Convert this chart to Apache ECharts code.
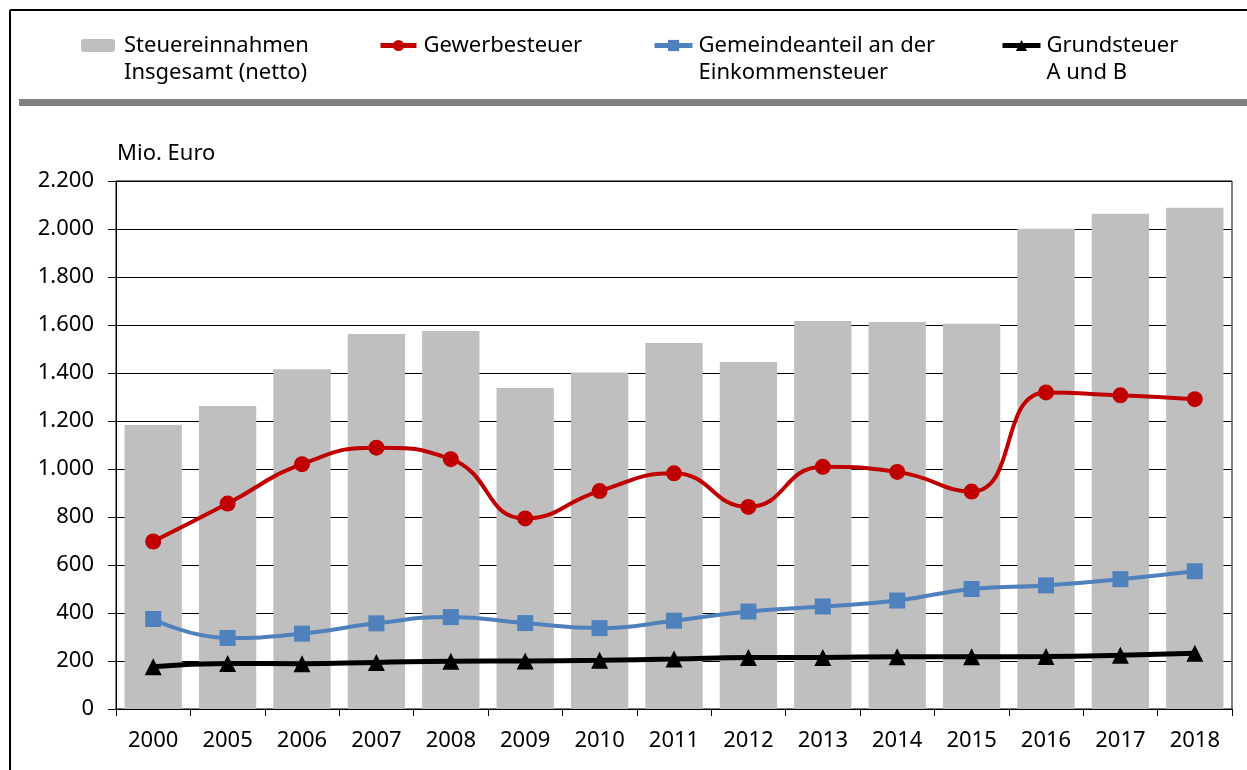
<!DOCTYPE html>
<html>
<head>
<meta charset="utf-8">
<script src="https://cdn.jsdelivr.net/npm/echarts@6/dist/echarts.min.js"></script>
<style>
html,body{margin:0;padding:0;background:#fff;}
#c{width:1247px;height:770px;}
</style>
</head>
<body>
<div id="c"></div>
<script>
var years = ['2000','2005','2006','2007','2008','2009','2010','2011','2012','2013','2014','2015','2016','2017','2018'];
var steuerGesamt = [1183,1262,1416,1562,1575,1337,1402,1525,1446,1617,1613,1605,2001,2064,2089];
var gewerbesteuer = [698,856,1020,1089,1041,794,908,982,842,1009,988,906,1319,1307,1291];
var einkommensteuer = [375,296,314,357,383,358,337,368,406,427,452,500,515,541,574];
var grundsteuer = [176,190,189,194,199,200,203,208,215,215,218,218,219,224,232];
var yTicks = [0,200,400,600,800,1000,1200,1400,1600,1800,2000,2200];

var names = ['Steuereinnahmen\nInsgesamt (netto)','Gewerbesteuer','Gemeindeanteil an der\nEinkommensteuer','Grundsteuer\nA und B'];
var FONT = 'Noto Sans';

function deFmt(v){ return String(v).replace(/\B(?=(\d{3})+(?!\d))/g,'.'); }

function mkLegend(name, left, top, iconW, isLine, gap){
  var lg = {
    data:[name], left:left, top:top, padding:0, itemWidth:iconW, itemHeight:isLine ? 14 : 13,
    selectedMode:false,
    formatter:function(n){ return (n.indexOf('\n') >= 0 ? '\n' : '') + n; },
    textStyle:{fontFamily:FONT, fontSize:22, color:'#000', lineHeight:27, padding:[0,0,0,gap]}
  };
  if (isLine) { lg.lineStyle = {width:5}; }
  return lg;
}

var chart = echarts.init(document.getElementById('c'));
chart.setOption({
  animation:false,
  backgroundColor:'#fff',
  textStyle:{fontFamily:FONT},
  legend:[
    mkLegend(names[0], 81, 5, 34, false, 4),
    mkLegend(names[1], 378, 32, 36, true, 2),
    mkLegend(names[2], 652, 5, 38, true, 1),
    mkLegend(names[3], 1000, 5, 38, true, 1)
  ],
  graphic:[
    {type:'line', shape:{x1:10,y1:10,x2:1247,y2:10}, style:{stroke:'#000',lineWidth:2}},
    {type:'line', shape:{x1:10,y1:10,x2:10,y2:770}, style:{stroke:'#000',lineWidth:2}},
    {type:'rect', shape:{x:19,y:99,width:1228,height:7}, style:{fill:'#808080'}},
    {type:'text', left:117, top:143, style:{text:'Mio. Euro', font:'22px "Noto Sans"', fill:'#000'}}
  ],
  grid:{left:116, right:15, top:181, bottom:61, show:true, borderColor:'#000', borderWidth:1, containLabel:false},
  xAxis:{
    type:'category', data:years,
    axisLine:{lineStyle:{color:'#000',width:1}},
    axisTick:{show:true, alignWithLabel:false, interval:0, length:7, lineStyle:{color:'#000'}},
    axisLabel:{color:'#000', fontFamily:FONT, fontSize:22, margin:21, interval:0}
  },
  yAxis:{
    type:'value', min:yTicks[0], max:yTicks[yTicks.length-1], interval:200,
    axisLine:{show:true, lineStyle:{color:'#000',width:1}},
    axisTick:{show:true, length:8, lineStyle:{color:'#000'}},
    splitLine:{show:true, lineStyle:{color:'#000',width:1}},
    axisLabel:{color:'#000', fontFamily:FONT, fontSize:22, margin:22, formatter:deFmt}
  },
  series:[
    {name:names[0], type:'bar', data:steuerGesamt, barCategoryGap:'23%', itemStyle:{color:'#BFBFBF'}},
    {name:names[1], type:'line', data:gewerbesteuer, smooth:0.5, symbol:'circle', symbolSize:16,
     lineStyle:{color:'#C00000', width:4}, itemStyle:{color:'#C00000'}},
    {name:names[2], type:'line', data:einkommensteuer, smooth:0.5, symbol:'rect', symbolSize:16,
     lineStyle:{color:'#4F81BD', width:4}, itemStyle:{color:'#4F81BD'}},
    {name:names[3], type:'line', data:grundsteuer, smooth:0.5, symbol:'triangle', symbolSize:[17,17],
     lineStyle:{color:'#000', width:5}, itemStyle:{color:'#000'}}
  ]
});
</script>
</body>
</html>
